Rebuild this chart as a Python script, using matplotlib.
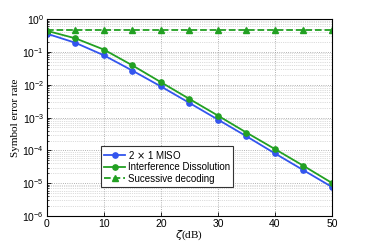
import numpy as np
import matplotlib
matplotlib.use("Agg")
import matplotlib.pyplot as plt
from matplotlib.ticker import LogLocator, NullFormatter

# SNR points (dB)
zeta = [0, 5, 10, 15, 20, 25, 30, 35, 40, 45, 50]

ser_miso = [0.36, 0.19, 0.079, 0.027, 0.0089, 0.0028, 8.7e-4, 2.7e-4, 8.1e-5, 2.5e-5, 7.7e-6]
ser_id = [0.44, 0.26, 0.118, 0.039, 0.012, 0.0037, 1.15e-3, 3.5e-4, 1.1e-4, 3.4e-5, 1.02e-5]
ser_sd = [0.45] * 11

labels = [r"2 $\times$ 1 MISO", "Interference Dissolution", "Sucessive decoding"]

plt.rcParams['font.family'] = ['Liberation Sans', 'DejaVu Sans']
plt.rcParams['mathtext.fontset'] = 'dejavusans'

fig = plt.figure(figsize=(3.66, 2.45), dpi=100)
ax = fig.add_axes([0.128, 0.118, 0.779, 0.804])

blue = '#3355ee'
green = '#22a022'
ax.semilogy(zeta, ser_miso, '-o', color=blue, lw=1.3, ms=3.8, mfc=blue, mec=blue, label=labels[0])
ax.semilogy(zeta, ser_id, '-o', color=green, lw=1.3, ms=3.8, mfc=green, mec=green, label=labels[1])
ax.semilogy(zeta, ser_sd, '--^', color=green, lw=1.3, ms=3.8, mfc=green, mec=green, label=labels[2])

ax.set_xlim(0, 50)
ax.set_ylim(1e-6, 1)
ax.set_xticks([0, 10, 20, 30, 40, 50])
ax.yaxis.set_major_locator(LogLocator(base=10, numticks=10))
ax.yaxis.set_minor_locator(LogLocator(base=10, subs=np.arange(2, 10), numticks=10))
ax.yaxis.set_minor_formatter(NullFormatter())
ax.tick_params(labelsize=7.5, direction='in', length=3, width=0.6, pad=2)
ax.tick_params(which='minor', direction='in', length=1.5, width=0.5)

ax.grid(True, which='major', ls=':', lw=0.6, color='#999999')
ax.grid(True, which='minor', axis='y', ls=':', lw=0.5, color='#bbbbbb')
for s in ax.spines.values():
    s.set_linewidth(0.8)

ax.set_xlabel(r"$\zeta$(dB)", fontsize=8, family='Liberation Serif', labelpad=0)
ax.set_ylabel("Symbol error rate", fontsize=8, family='Liberation Serif', labelpad=2)

leg = ax.legend(loc='lower left', bbox_to_anchor=(0.19, 0.15), fontsize=7,
                fancybox=False, framealpha=1, edgecolor='#333333',
                borderaxespad=0, handlelength=2.2, handletextpad=0.3,
                labelspacing=0.15, borderpad=0.3)
leg.get_frame().set_linewidth(0.8)

fig.savefig("out.png", dpi=100)
